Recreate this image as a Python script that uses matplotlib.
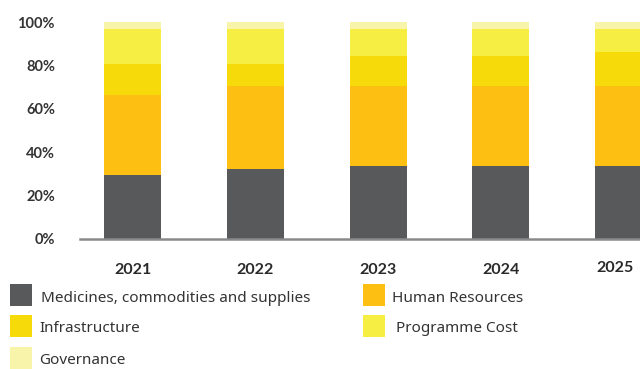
import matplotlib
matplotlib.use("Agg")
import matplotlib.pyplot as plt
from matplotlib.patches import Rectangle
from matplotlib.transforms import ScaledTranslation
import numpy as np

years = ["2021", "2022", "2023", "2024", "2025"]
medicines = [29.5, 32.3, 33.6, 33.6, 33.6]
human_resources = [36.9, 38.2, 36.9, 36.9, 36.9]
infrastructure = [14.2, 10.1, 13.8, 13.8, 15.7]
programme_cost = [16.2, 16.2, 12.5, 12.5, 10.6]
governance = [3.2, 3.2, 3.2, 3.2, 3.2]

series_names = ["Medicines, commodities and supplies", "Human Resources",
                "Infrastructure", "Programme Cost", "Governance"]
colors = ["#58595B", "#FCBF12", "#F7DA09", "#F6EE42", "#F8F4AA"]
series = [medicines, human_resources, infrastructure, programme_cost, governance]

plt.rcParams['font.family'] = ['Lato', 'DejaVu Sans']
W, H = 640, 369
fig = plt.figure(figsize=(W / 100, H / 100), dpi=100)
ax = fig.add_axes([80 / W, (H - 239) / H, (640 - 80) / W, (239 - 22) / H])

x = np.arange(len(years))
bottom = np.zeros(len(years))
for vals, c in zip(series, colors):
    ax.bar(x, vals, bottom=bottom, width=0.464, color=c, linewidth=0, zorder=2)
    bottom += np.array(vals)

ax.set_xlim(-0.428, 4.134)
ax.set_ylim(0, 100)
for s in ["top", "right", "left"]:
    ax.spines[s].set_visible(False)
ax.spines["bottom"].set_color("#8a8a8a")
ax.spines["bottom"].set_linewidth(1.8)
ax.spines["bottom"].set_zorder(3)

ax.set_yticks([0, 20, 40, 60, 80, 100])
ax.set_yticklabels([f"{v}%" for v in [0, 20, 40, 60, 80, 100]],
                   fontsize=10.5, fontweight="bold", color="#333333")
ax.tick_params(axis="y", length=0, pad=18)
ax.set_xticks(x)
ax.set_xticklabels(years, fontsize=11.5, fontweight="bold", color="#2a2a2a")
ax.tick_params(axis="x", length=0, pad=17)
last = ax.get_xticklabels()[-1]
last.set_transform(last.get_transform() + ScaledTranslation(-9 / 100, 2 / 100, fig.dpi_scale_trans))

# legend
legend_items = [
    (0, 10, 284, 41),
    (1, 363, 284, 392),
    (2, 10, 315, 39),
    (3, 363, 315, 396),
    (4, 10, 347, 39),
]
for idx, sx, sy, tx in legend_items:
    fig.patches.append(Rectangle((sx / W, (H - sy - 22) / H), 22 / W, 22 / H,
                                 transform=fig.transFigure, color=colors[idx],
                                 linewidth=0))
    fig.text(tx / W, (H - sy - 14) / H, series_names[idx], fontsize=11,
             family=["Noto Sans", "DejaVu Sans"],
             color="#333333", va="center", ha="left")

fig.savefig("out.png", dpi=100)
